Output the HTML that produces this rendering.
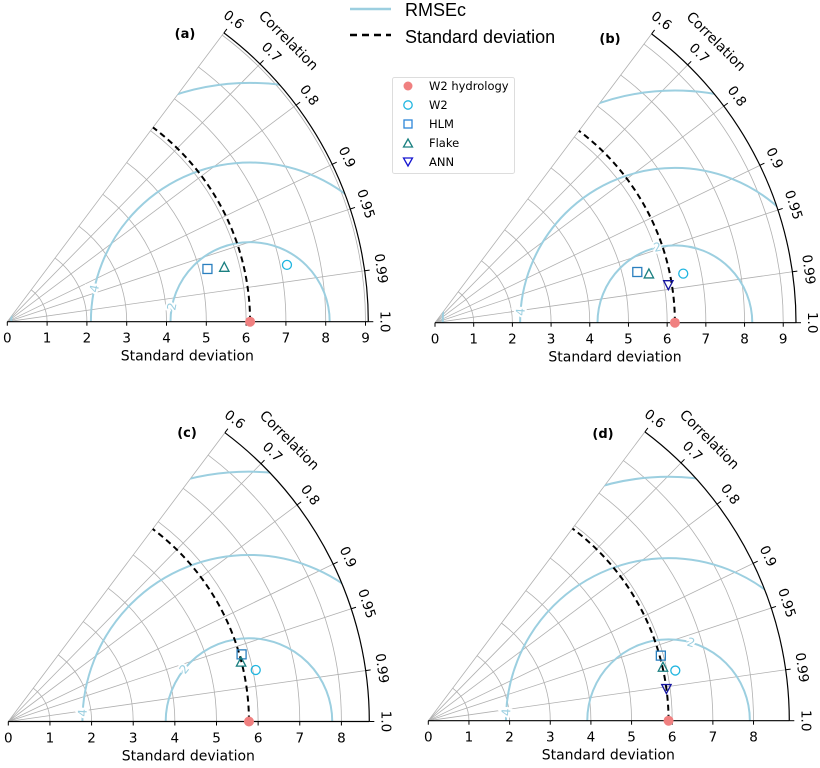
<!DOCTYPE html>
<html><head><meta charset="utf-8">
<style>
html,body{margin:0;padding:0;background:#fff;width:820px;height:768px;overflow:hidden;}
svg{display:block;}
text{font-family:"DejaVu Sans","Liberation Sans",sans-serif;}
</style></head>
<body>
<svg id="chart" width="820" height="768" viewBox="0 0 820 768" xmlns="http://www.w3.org/2000/svg">
  <g>
    <line x1="350" y1="9" x2="391" y2="9" stroke="#9ccfe0" stroke-width="2.5"/>
    <text x="405" y="16" font-size="18" style="font-family:'Liberation Sans',sans-serif">RMSEc</text>
    <line x1="350" y1="35" x2="391" y2="35" stroke="#000" stroke-width="2.5" stroke-dasharray="7,5"/>
    <text x="405" y="43" font-size="18" style="font-family:'Liberation Sans',sans-serif">Standard deviation</text>
  </g>
  <g>
    <rect x="392.5" y="77.5" width="122" height="96" rx="2" fill="#fff" stroke="#ddd"/>
    <circle cx="408" cy="86" r="4.5" fill="#f08080"/>
    <text x="429" y="90" font-size="11.5">W2 hydrology</text>
    <circle cx="408" cy="105" r="4.2" fill="none" stroke="#1fb5e0" stroke-width="1.3"/>
    <text x="429" y="109" font-size="11.5">W2</text>
    <rect x="404" y="120" width="8" height="8" fill="none" stroke="#2c86d9" stroke-width="1.3"/>
    <text x="429" y="128" font-size="11.5">HLM</text>
    <path d="M408,139 L412.5,147 L403.5,147 Z" fill="none" stroke="#1a8080" stroke-width="1.3"/>
    <text x="429" y="147" font-size="11.5">Flake</text>
    <path d="M403.5,158 L412.5,158 L408,166 Z" fill="none" stroke="#1515d0" stroke-width="1.3"/>
    <text x="429" y="166" font-size="11.5">ANN</text>
  </g>
</svg>
<script>
const panelLabels = ['(a)', '(b)', '(c)', '(d)'];
const refStd = [6.1, 6.2, 5.78, 5.91];
const smax = [9.07, 9.33, 8.67, 8.88];
const xTickMax = [9, 9, 8, 8];
const w2Std = [7.17, 6.54, 6.07, 6.2];
const w2Corr = [0.980, 0.981, 0.979, 0.980];
const hlmStd = [5.2, 5.39, 5.83, 5.94];
const hlmCorr = [0.967, 0.970, 0.961, 0.963];
const flakeStd = [5.62, 5.67, 5.77, 5.92];
const flakeCorr = [0.970, 0.975, 0.969, 0.975];
const annStd = [null, 6.11, null, 5.91];
const annCorr = [null, 0.987, null, 0.991];
const corrTicks = [0.6, 0.7, 0.8, 0.9, 0.95, 0.99, 1.0];
const corrTickLabels = ['0.6', '0.7', '0.8', '0.9', '0.95', '0.99', '1.0'];
const rmsLevels = [2, 4, 6];

// layout (not data)
const origins = [[7.3, 321.7], [435, 322.7], [8.3, 721.5], [428.3, 720.7]];
const outerPx = 361;
const panelLabelPos = [[185, 38], [610, 43], [187, 437], [603, 438]];
const labelPhi = [[169, 168], [103, 176], [141, 177], [74, 177]];

const NS = 'http://www.w3.org/2000/svg';
const svg = document.getElementById('chart');
function mk(tag, attrs, parent) {
  const e = document.createElementNS(NS, tag);
  for (const k in attrs) e.setAttribute(k, attrs[k]);
  parent.appendChild(e);
  return e;
}
const THMAX = Math.acos(0.6);

panelLabels.forEach((lab, p) => {
  const [ox, oy] = origins[p];
  const k = outerPx / smax[p];
  const X = (s, c) => ox + s * k * Math.cos(Math.acos(c));
  const Y = (s, c) => oy - s * k * Math.sin(Math.acos(c));
  const PX = (x, y) => [ox + x * k, oy - y * k];

  const g = mk('g', {}, svg);
  
  

  const cid = 'clip' + p;
  const defs = mk('defs', {}, g);
  const cp = mk('clipPath', {id: cid}, defs);
  const ex = ox + outerPx * Math.cos(THMAX), ey = oy - outerPx * Math.sin(THMAX);
  mk('path', {d: `M${ox},${oy} L${ox + outerPx},${oy} A${outerPx},${outerPx} 0 0 0 ${ex},${ey} Z`}, cp);

  for (let s = 1; s <= Math.floor(smax[p]); s++) {
    const r = s * k;
    const a = mk('path', {d: `M${ox + r},${oy} A${r},${r} 0 0 0 ${ox + r * Math.cos(THMAX)},${oy - r * Math.sin(THMAX)}`, fill: 'none', stroke: '#b0b0b0', 'stroke-width': 0.8}, g);
    
    
  }
  corrTicks.forEach((c) => {
    if (c >= 1) return;
    const l = mk('line', {x1: ox, y1: oy, x2: X(smax[p], c), y2: Y(smax[p], c), stroke: '#b0b0b0', 'stroke-width': 0.8}, g);
    
    
  });

  const cg = mk('g', {'clip-path': `url(#${cid})`}, g);
  const [rcx, rcy] = PX(refStd[p], 0);
  rmsLevels.forEach((lv) => {
    const c = mk('circle', {cx: rcx, cy: rcy, r: lv * k, fill: 'none', stroke: '#9ccfe0', 'stroke-width': 2}, cg);
    
    
  });
  [2, 4].forEach((lv, i) => {
    const phi = labelPhi[p][i] * Math.PI / 180;
    const lx = rcx + lv * k * Math.cos(phi), ly = rcy - lv * k * Math.sin(phi);
    const rot = 90 - labelPhi[p][i];
    const t = mk('text', {x: lx, y: ly + 4, 'font-size': 12, fill: '#9ccfe0', 'text-anchor': 'middle', stroke: '#fff', 'stroke-width': 4, 'paint-order': 'stroke', transform: `rotate(${rot} ${lx} ${ly})`}, g);
    t.textContent = String(lv);
    
    
  });

  const oa = mk('path', {d: `M${ox + outerPx},${oy} A${outerPx},${outerPx} 0 0 0 ${ex},${ey}`, fill: 'none', stroke: '#000', 'stroke-width': 1.2}, g);
  
  
  corrTicks.forEach((c, i) => {
    const th = Math.acos(c);
    const cs = Math.cos(th), sn = Math.sin(th);
    const t1 = mk('line', {x1: ox + outerPx * cs, y1: oy - outerPx * sn, x2: ox + (outerPx + 5) * cs, y2: oy - (outerPx + 5) * sn, stroke: '#000', 'stroke-width': 1}, g);
    
    
    const R = outerPx + 17;
    const lx = ox + R * cs, ly = oy - R * sn;
    const rot = 90 - th * 180 / Math.PI;
    const t = mk('text', {x: lx, y: ly + 5, 'font-size': 13.5, 'text-anchor': 'middle', transform: `rotate(${rot} ${lx} ${ly})`}, g);
    t.textContent = corrTickLabels[i];
    
    
  });
  {
    const th = Math.PI / 4, R = outerPx + 37;
    const lx = ox + R * Math.cos(th), ly = oy - R * Math.sin(th);
    const t = mk('text', {x: lx, y: ly + 5, 'font-size': 14, 'text-anchor': 'middle', transform: `rotate(45 ${lx} ${ly})`}, g);
    t.textContent = 'Correlation';
    
    
  }

  const rr = refStd[p] * k;
  const da = mk('path', {d: `M${ox + rr},${oy} A${rr},${rr} 0 0 0 ${ox + rr * Math.cos(THMAX)},${oy - rr * Math.sin(THMAX)}`, fill: 'none', stroke: '#000', 'stroke-width': 2, 'stroke-dasharray': '6,4'}, g);
  
  

  const xa = mk('line', {x1: ox, y1: oy, x2: ox + outerPx, y2: oy, stroke: '#000', 'stroke-width': 1.2}, g);
  
  
  for (let s = 0; s <= xTickMax[p]; s++) {
    const x = ox + s * k;
    const tk = mk('line', {x1: x, y1: oy, x2: x, y2: oy + 4, stroke: '#000', 'stroke-width': 1}, g);
    
    
    const t = mk('text', {x: x, y: oy + 21, 'font-size': 13.5, 'text-anchor': 'middle'}, g);
    t.textContent = String(s);
    
    
  }
  const xt = mk('text', {x: ox + 180, y: oy + 39, 'font-size': 14, 'text-anchor': 'middle'}, g);
  xt.textContent = 'Standard deviation';
  
  

  const pl = mk('text', {x: panelLabelPos[p][0], y: panelLabelPos[p][1], 'font-size': 13, 'font-weight': 'bold', 'text-anchor': 'middle'}, g);
  pl.textContent = lab;
  
  

  const w2x = X(w2Std[p], w2Corr[p]), w2y = Y(w2Std[p], w2Corr[p]);
  const m1 = mk('circle', {cx: w2x, cy: w2y, r: 4.5, fill: 'none', stroke: '#1fb5e0', 'stroke-width': 1.3}, g);
  
  
  const hx = X(hlmStd[p], hlmCorr[p]), hy = Y(hlmStd[p], hlmCorr[p]);
  const m2 = mk('rect', {x: hx - 4.5, y: hy - 4.5, width: 9, height: 9, fill: 'none', stroke: '#2a7fbf', 'stroke-width': 1.3}, g);
  
  
  const fx = X(flakeStd[p], flakeCorr[p]), fy = Y(flakeStd[p], flakeCorr[p]);
  const m3 = mk('path', {d: `M${fx},${fy - 5} L${fx + 4.7},${fy + 4} L${fx - 4.7},${fy + 4} Z`, fill: 'none', stroke: '#1a7f80', 'stroke-width': 1.3}, g);
  
  
  if (annStd[p] !== null) {
    const axp = X(annStd[p], annCorr[p]), ayp = Y(annStd[p], annCorr[p]);
    const m4 = mk('path', {d: `M${axp - 4.7},${ayp - 4} L${axp + 4.7},${ayp - 4} L${axp},${ayp + 5} Z`, fill: 'none', stroke: '#1515a0', 'stroke-width': 1.3}, g);
    
    
  }
  const m0 = mk('circle', {cx: rcx, cy: rcy, r: 5, fill: '#f08080'}, g);
  
  
});
</script>
</body></html>
